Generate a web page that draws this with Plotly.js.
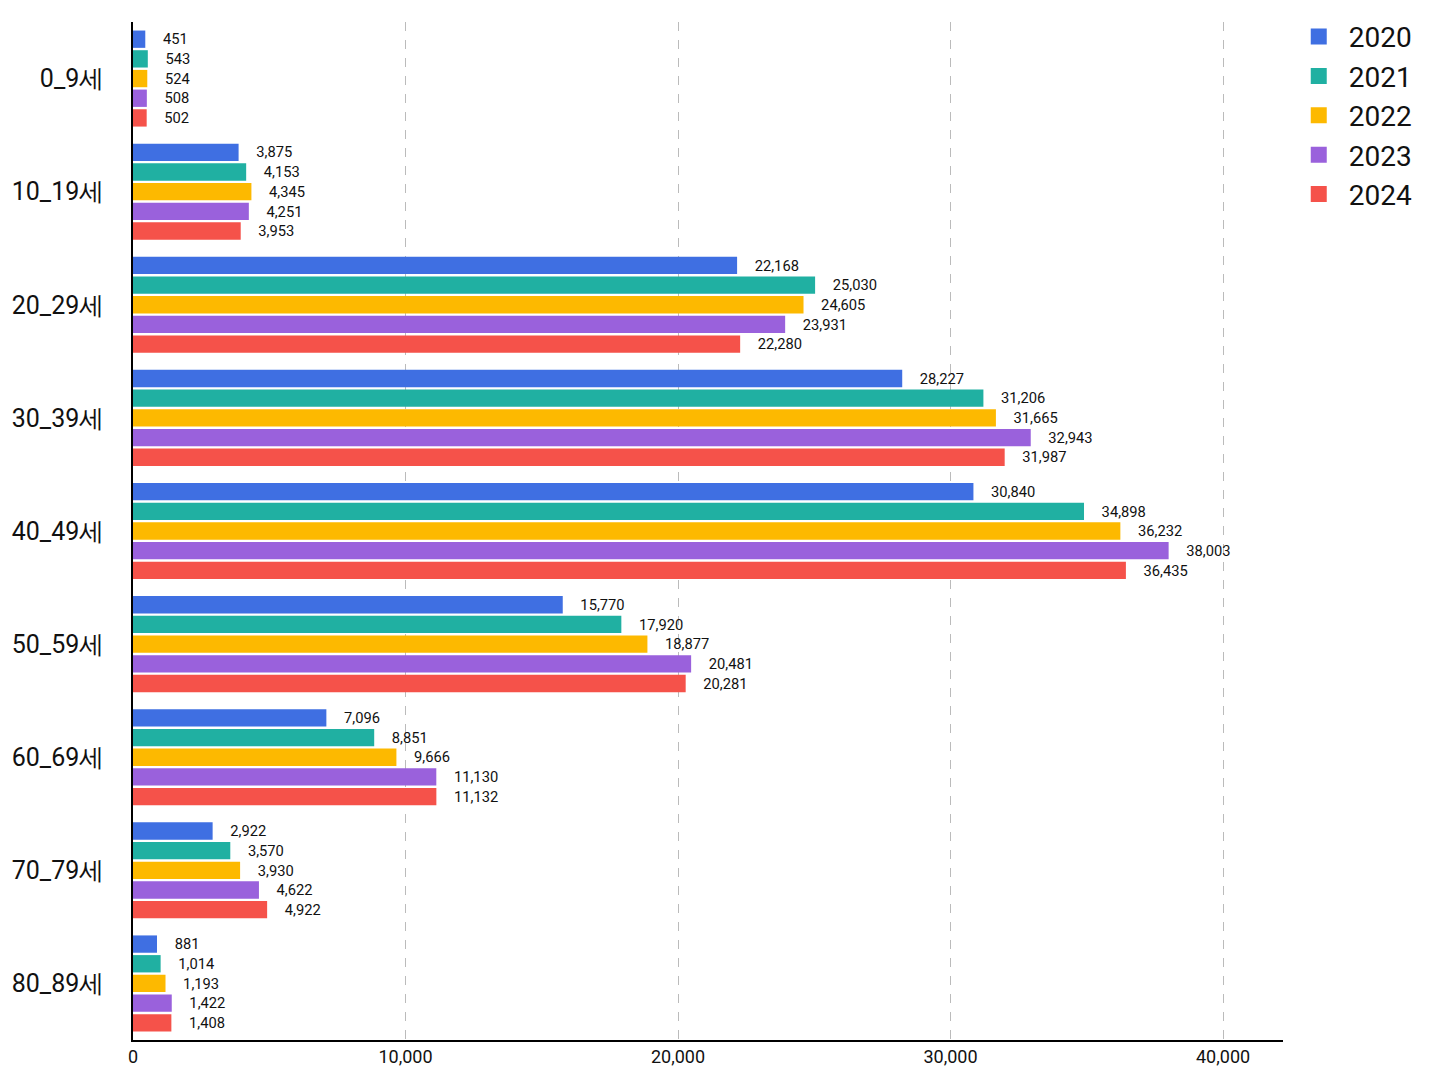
<!DOCTYPE html>
<html><head><meta charset="utf-8">
<script src="https://cdn.plot.ly/plotly-3.0.1.min.js"></script>
<style>body{margin:0;background:#fff}</style></head>
<body><div id="c" style="width:1448px;height:1086px"></div>
<script>
const categories = ["0_9세","10_19세","20_29세","30_39세","40_49세","50_59세","60_69세","70_79세","80_89세"];
const years = ["2020","2021","2022","2023","2024"];
const v2020 = [451,3875,22168,28227,30840,15770,7096,2922,881];
const v2021 = [543,4153,25030,31206,34898,17920,8851,3570,1014];
const v2022 = [524,4345,24605,31665,36232,18877,9666,3930,1193];
const v2023 = [508,4251,23931,32943,38003,20481,11130,4622,1422];
const v2024 = [502,3953,22280,31987,36435,20281,11132,4922,1408];
const series = [v2020,v2021,v2022,v2023,v2024];
const colors = ["#3F6FE2","#20B0A2","#FDB900","#9A61DC","#F5524A"];
const data = series.map((s,i)=>({
  type:'bar', orientation:'h', name:years[i], y:categories, x:s, showlegend:false,
  marker:{color:colors[i]}, texttemplate:'    %{x:,d}', textposition:'outside',
  textfont:{size:17,color:'#111',family:'Roboto, sans-serif'}, cliponaxis:false
}));
years.forEach((yr,i)=>data.push({
  type:'scatter', mode:'markers', name:yr, x:[null], y:[null], showlegend:true,
  marker:{symbol:'square', size:32, color:colors[i]}
}));
Plotly.newPlot('c', data, {
  width:1448, height:1086, barmode:'group', bargap:0.13, bargroupgap:0.12,
  margin:{l:133,r:165,t:20,b:46},
  font:{family:'Roboto, sans-serif',color:'#111'},
  plot_bgcolor:'#fff', paper_bgcolor:'#fff',
  xaxis:{range:[0,42200], tickvals:[0,10000,20000,30000,40000], tickformat:',d',
    showgrid:true, gridcolor:'#bbb', griddash:'dash', zeroline:false,
    showline:true, linecolor:'#000', linewidth:1.5, tickfont:{size:18}},
  yaxis:{autorange:'reversed', showline:true, linecolor:'#000', linewidth:1.5,
    tickfont:{size:25}, ticks:'', ticklen:0, showgrid:false, ticklabelstandoff:22},
  legend:{x:1.005, y:1.01, yanchor:'top', font:{size:28}, itemwidth:50, tracegroupgap:0,
    itemsizing:'trace'},
}, {displayModeBar:false});
</script></body></html>
